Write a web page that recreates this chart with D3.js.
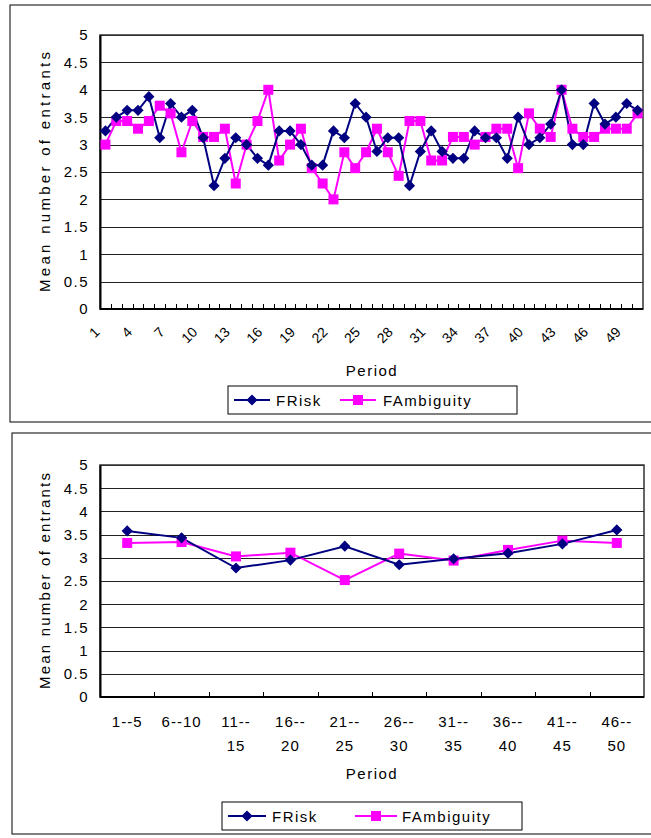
<!DOCTYPE html>
<html>
<head>
<meta charset="utf-8">
<script src="https://cdn.jsdelivr.net/npm/d3@7"></script>
<style>
  body { margin: 0; background: #fff; }
  svg { display: block; }
  text { font-family: "Liberation Sans", Arial, sans-serif; fill: #000; }
</style>
</head>
<body>
<svg id="chart" width="651" height="838"></svg>
<script>
// ---- data ----
const periods = d3.range(1, 51);
const periodTickLabels = [1, 4, 7, 10, 13, 16, 19, 22, 25, 28, 31, 34, 37, 40, 43, 46, 49];

const riskByPeriod = [
  3.25, 3.5, 3.625, 3.625, 3.875, 3.125, 3.75, 3.5, 3.625, 3.125,
  2.25, 2.75, 3.125, 3.0, 2.75, 2.625, 3.25, 3.25, 3.0, 2.625,
  2.625, 3.25, 3.125, 3.75, 3.5, 2.875, 3.125, 3.125, 2.25, 2.875,
  3.25, 2.875, 2.75, 2.75, 3.25, 3.125, 3.125, 2.75, 3.5, 3.0,
  3.125, 3.375, 4.0, 3.0, 3.0, 3.75, 3.375, 3.5, 3.75, 3.625
];
const ambiguityByPeriod = [
  3.0, 3.43, 3.43, 3.29, 3.43, 3.71, 3.57, 2.86, 3.43, 3.14,
  3.14, 3.29, 2.29, 3.0, 3.43, 4.0, 2.71, 3.0, 3.29, 2.57,
  2.29, 2.0, 2.86, 2.57, 2.86, 3.29, 2.86, 2.43, 3.43, 3.43,
  2.71, 2.71, 3.14, 3.14, 3.0, 3.14, 3.29, 3.29, 2.57, 3.57,
  3.29, 3.14, 4.0, 3.29, 3.14, 3.14, 3.29, 3.29, 3.29, 3.57
];

const blocks = ["1--5", "6--10", "11--15", "16--20", "21--25", "26--30", "31--35", "36--40", "41--45", "46--50"];
const riskByBlock = [3.58, 3.43, 2.78, 2.95, 3.25, 2.85, 2.98, 3.10, 3.30, 3.60];
const ambiguityByBlock = [3.32, 3.34, 3.03, 3.11, 2.52, 3.09, 2.94, 3.17, 3.37, 3.32];

const yTickValues = [0, 0.5, 1, 1.5, 2, 2.5, 3, 3.5, 4, 4.5, 5];
const seriesNames = ["FRisk", "FAmbiguity"];
const seriesColors = ["#000080", "#FF00FF"];

const svg = d3.select("#chart");

function marker(g, kind, color) {
  if (kind === 0) {
    g.append("path").attr("d", d3.symbol(d3.symbolDiamond2, 80)()).attr("fill", color);
  } else {
    g.append("rect").attr("x", -5).attr("y", -5).attr("width", 10).attr("height", 10).attr("fill", color);
  }
}

function panel(cfg) {
  const g = svg.append("g");
  // outer chart frame
  g.append("rect").attr("x", cfg.frame[0]).attr("y", cfg.frame[1])
    .attr("width", cfg.frame[2]).attr("height", cfg.frame[3])
    .attr("fill", "none").attr("stroke", "#000").attr("stroke-width", 1);

  const x = d3.scaleBand().domain(cfg.categories).range([cfg.left, cfg.right]).padding(0);
  const y = d3.scaleLinear().domain([0, 5]).range([cfg.bottom, cfg.top]);

  // horizontal gridlines
  g.append("g").selectAll("line").data(yTickValues.slice(1)).join("line")
    .attr("x1", cfg.left).attr("x2", cfg.right)
    .attr("y1", d => Math.round(y(d)) + 0.5).attr("y2", d => Math.round(y(d)) + 0.5)
    .attr("stroke", "#222").attr("stroke-width", 1);

  // plot border
  g.append("rect").attr("x", cfg.left).attr("y", cfg.top)
    .attr("width", cfg.right - cfg.left).attr("height", cfg.bottom - cfg.top)
    .attr("fill", "none").attr("stroke", "#333").attr("stroke-width", 1.5);

  // y axis
  const yAxis = d3.axisLeft(y).tickValues(yTickValues).tickSize(0).tickPadding(11)
    .tickFormat(d => d3.format("")(d));
  const ya = g.append("g").attr("transform", `translate(${cfg.left},0)`).call(yAxis);
  ya.select(".domain").attr("stroke", "#000").attr("stroke-width", 2);
  ya.selectAll("text").attr("font-size", 15).attr("letter-spacing", "1.5px")
    .attr("font-family", "'Liberation Sans', Arial, sans-serif");

  // x axis line with inward ticks at category boundaries
  g.append("line").attr("x1", cfg.left).attr("x2", cfg.right)
    .attr("y1", cfg.bottom).attr("y2", cfg.bottom).attr("stroke", "#000").attr("stroke-width", 2);
  const bounds = cfg.categories.map(c => x(c)).concat([cfg.right]);
  g.append("g").selectAll("line").data(bounds.slice(1, -1)).join("line")
    .attr("x1", d => Math.round(d) + 0.5).attr("x2", d => Math.round(d) + 0.5)
    .attr("y1", cfg.bottom).attr("y2", cfg.bottom - cfg.tickLen)
    .attr("stroke", "#000").attr("stroke-width", 1);

  cfg.xLabels(g, x);

  // series
  const series = [cfg.risk, cfg.ambiguity];
  [1, 0].forEach(i => {
    const vals = series[i];
    const line = d3.line().x((d, j) => x(cfg.categories[j]) + x.bandwidth() / 2).y(d => y(d));
    g.append("path").datum(vals).attr("d", line)
      .attr("fill", "none").attr("stroke", seriesColors[i]).attr("stroke-width", 2);
  });
  [1, 0].forEach(i => {
    const vals = series[i];
    vals.forEach((v, j) => {
      const m = g.append("g").attr("transform",
        `translate(${x(cfg.categories[j]) + x.bandwidth() / 2},${y(v)})`);
      marker(m, i, seriesColors[i]);
    });
  });

  // axis titles
  g.append("text").attr("transform", `translate(${cfg.yTitleX},${(cfg.top + cfg.bottom) / 2}) rotate(-90)`)
    .attr("text-anchor", "middle").attr("font-size", 15)
    .attr("textLength", cfg.yTitleLen).attr("lengthAdjust", "spacing")
    .text("Mean number of entrants");
  g.append("text").attr("x", 372).attr("y", cfg.xTitleY)
    .attr("text-anchor", "middle").attr("font-size", 15).attr("letter-spacing", "1.5px")
    .text("Period");

  // legend
  const L = cfg.legend;
  g.append("rect").attr("x", L.x).attr("y", L.y).attr("width", L.w).attr("height", 28)
    .attr("fill", "#fff").attr("stroke", "#000").attr("stroke-width", 1);
  L.items.forEach((it, i) => {
    const cy = L.y + 14;
    g.append("line").attr("x1", it.x0).attr("x2", it.x1).attr("y1", cy).attr("y2", cy)
      .attr("stroke", seriesColors[i]).attr("stroke-width", 2);
    const m = g.append("g").attr("transform", `translate(${(it.x0 + it.x1) / 2},${cy})`);
    marker(m, i, seriesColors[i]);
    g.append("text").attr("x", it.tx).attr("y", cy + 6).attr("font-size", 15)
      .attr("letter-spacing", "1.5px").text(seriesNames[i]);
  });
}

// per-period chart
panel({
  frame: [10, 5, 700, 417],
  categories: periods,
  left: 100, right: 643, top: 35, bottom: 309,
  tickLen: 5,
  risk: riskByPeriod, ambiguity: ambiguityByPeriod,
  yTitleX: 50, yTitleLen: 240, xTitleY: 376,
  xLabels: (g, x) => {
    g.append("g").selectAll("text").data(periodTickLabels).join("text")
      .attr("transform", d => `translate(${x(d) + x.bandwidth() / 2 - 5},${309 + 24}) rotate(-45)`)
      .attr("text-anchor", "end").attr("font-size", 14).text(d => d);
  },
  legend: { x: 228, y: 386, w: 289, items: [
    { x0: 234, x1: 270, tx: 276 }, { x0: 340, x1: 376, tx: 383 }
  ] }
});

// five-period block chart
panel({
  frame: [12, 433, 700, 401],
  categories: blocks,
  left: 100, right: 644, top: 465, bottom: 697,
  tickLen: 5,
  risk: riskByBlock, ambiguity: ambiguityByBlock,
  yTitleX: 50, yTitleLen: 216, xTitleY: 779,
  xLabels: (g, x) => {
    const t = g.append("g").selectAll("text").data(blocks).join("text")
      .attr("x", d => x(d) + x.bandwidth() / 2).attr("y", 727)
      .attr("text-anchor", "middle").attr("font-size", 15).attr("letter-spacing", "1px");
    t.each(function (d, i) {
      const el = d3.select(this);
      const cx = x(d) + x.bandwidth() / 2;
      if (i < 2) {
        el.text(d);
      } else {
        const parts = d.split("--");
        el.append("tspan").attr("x", cx).attr("dy", 0).text(parts[0] + "--");
        el.append("tspan").attr("x", cx).attr("dy", 24).text(parts[1]);
      }
    });
  },
  legend: { x: 222, y: 802, w: 300, items: [
    { x0: 228, x1: 266, tx: 272 }, { x0: 355, x1: 397, tx: 402 }
  ] }
});
</script>
</body>
</html>
